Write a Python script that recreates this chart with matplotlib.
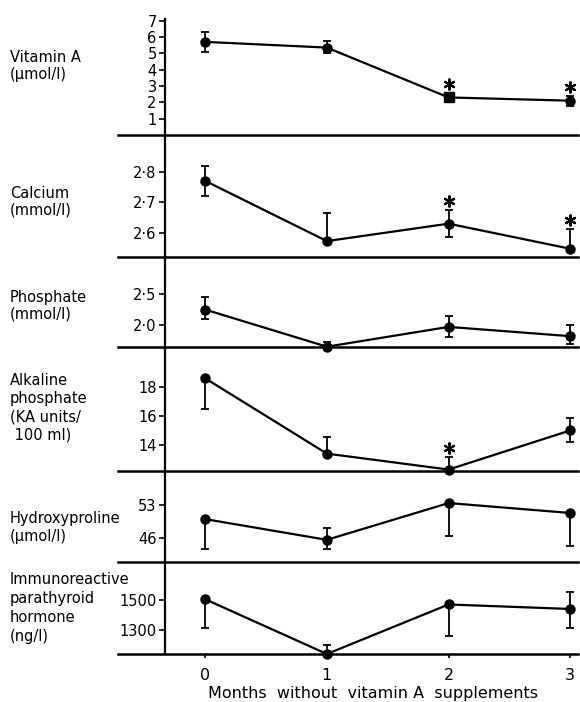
import matplotlib
matplotlib.use("Agg")
import matplotlib.pyplot as plt
from matplotlib.lines import Line2D
from matplotlib.transforms import offset_copy

plt.rcParams['font.family'] = ['DejaVu Sans']

months = [0, 1, 2, 3]
xtick_labels = ['0', '1', '2', '3']
xlabel = 'Months  without  vitamin A  supplements'

panel_labels = [['Vitamin A', '(μmol/l)'],
                ['Calcium', '(mmol/l)'],
                ['Phosphate', '(mmol/l)'],
                ['Alkaline', 'phosphate', '(KA units/', ' 100 ml)'],
                ['Hydroxyproline', '(μmol/l)'],
                ['Immunoreactive', 'parathyroid', 'hormone', '(ng/l)']]

vitA = [5.7, 5.35, 2.3, 2.1]
vitA_lo = [0.6, 0.35, 0.0, 0.3]
vitA_hi = [0.6, 0.4, 0.0, 0.3]
vitA_ticks = [1, 2, 3, 4, 5, 6, 7]
vitA_ticklabels = ['1', '2', '3', '4', '5', '6', '7']
vitA_stars = [2, 3]

calcium = [2.77, 2.573, 2.63, 2.548]
calcium_lo = [0.05, 0.0, 0.045, 0.0]
calcium_hi = [0.05, 0.092, 0.045, 0.065]
calcium_ticks = [2.6, 2.7, 2.8]
calcium_ticklabels = ['2·6', '2·7', '2·8']
calcium_stars = [2, 3]

phosphate = [2.25, 1.65, 1.97, 1.82]
phosphate_lo = [0.15, 0.05, 0.17, 0.12]
phosphate_hi = [0.2, 0.08, 0.18, 0.18]
phosphate_ticks = [2.0, 2.5]
phosphate_ticklabels = ['2·0', '2·5']
phosphate_stars = []

alk = [18.6, 13.4, 12.3, 15.0]
alk_lo = [2.1, 0.0, 0.0, 0.8]
alk_hi = [0.0, 1.15, 0.85, 0.85]
alk_ticks = [14, 16, 18]
alk_ticklabels = ['14', '16', '18']
alk_stars = [2]

hyd = [50.0, 45.6, 53.4, 51.3]
hyd_lo = [6.4, 2.0, 7.0, 7.0]
hyd_hi = [0.0, 2.5, 0.0, 0.0]
hyd_ticks = [46, 53]
hyd_ticklabels = ['46', '53']
hyd_stars = []

pth = [1505, 1140, 1470, 1440]
pth_lo = [190, 0, 210, 130]
pth_hi = [0, 60, 0, 115]
pth_ticks = [1300, 1500]
pth_ticklabels = ['1300', '1500']
pth_stars = []

W, H = 580, 702
fig = plt.figure(figsize=(W / 100, H / 100), dpi=100)

def fx(x):
    return x / W

def fy(y):
    return 1 - y / H

# (top_px, bottom_px, ylim)
layout = [
    (19, 135, (0, 7.1)),
    (135, 257, (2.521, 2.92)),
    (257, 347, (1.645, 3.1)),
    (347, 471, (12.2, 20.76)),
    (471, 562, (40.9, 60.2)),
    (562, 654, (1140, 1753)),
]
# pixel rows of each label line
label_rows = [[57, 74], [193, 210], [297, 314], [381, 399, 417, 435],
              [518, 537], [579, 598, 617, 636]]

series = [
    (vitA, vitA_lo, vitA_hi, vitA_ticks, vitA_ticklabels, vitA_stars),
    (calcium, calcium_lo, calcium_hi, calcium_ticks, calcium_ticklabels, calcium_stars),
    (phosphate, phosphate_lo, phosphate_hi, phosphate_ticks, phosphate_ticklabels, phosphate_stars),
    (alk, alk_lo, alk_hi, alk_ticks, alk_ticklabels, alk_stars),
    (hyd, hyd_lo, hyd_hi, hyd_ticks, hyd_ticklabels, hyd_stars),
    (pth, pth_lo, pth_hi, pth_ticks, pth_ticklabels, pth_stars),
]

ax_left, ax_right = 165, 580
for i, ((top, bot, ylim), (vals, lo, hi, ticks, tlabels, stars)) in enumerate(zip(layout, series)):
    ax = fig.add_axes([fx(ax_left), fy(bot), fx(ax_right) - fx(ax_left), (bot - top) / H])
    ax.set_xlim(-0.33, 3.08)
    ax.set_ylim(*ylim)
    for s in ['top', 'right', 'bottom']:
        ax.spines[s].set_visible(False)
    ax.spines['left'].set_linewidth(1.6)
    ax.set_yticks(ticks)
    ax.set_yticklabels(tlabels)
    ax.tick_params(axis='y', length=4, width=1.2, labelsize=10.5, pad=2)
    ax.patch.set_alpha(0)

    ax.errorbar(months, vals, yerr=[lo, hi], fmt='none', ecolor='black',
                elinewidth=1.3, capsize=3, capthick=1.3, clip_on=False)
    ax.plot(months, vals, color='black', lw=1.6, clip_on=False, zorder=3)
    markers = ['o'] * 4
    if i == 0:
        markers[2] = 's'
    for m, v, mk in zip(months, vals, markers):
        ax.plot([m], [v], marker=mk, color='black', ms=6.5, clip_on=False, zorder=4)
    for s in stars:
        off_px = 9 if hi[s] > 0 else 13
        tr = offset_copy(ax.transData, fig=fig, x=0, y=off_px, units='dots')
        ax.plot([months[s]], [vals[s] + hi[s]], marker=(6, 2, 0), color='black',
                ms=8.5, mew=1.5, transform=tr, clip_on=False, zorder=5)

    if i == len(layout) - 1:
        ax.set_xticks(months)
        ax.set_xticklabels(xtick_labels)
        ax.tick_params(axis='x', direction='out', length=3, width=1.2, labelsize=11.5, pad=7)
        ax.set_xlabel(xlabel, fontsize=11.5, labelpad=2)
    else:
        ax.set_xticks([])

    for line, yrow in zip(panel_labels[i], label_rows[i]):
        fig.text(fx(10), fy(yrow), line, ha='left', va='center', fontsize=10.5)

for y in [135, 257, 347, 471, 562, 654]:
    fig.add_artist(Line2D([fx(118), fx(578)], [fy(y), fy(y)], color='black', lw=1.8))

fig.savefig('out.png', dpi=100)
